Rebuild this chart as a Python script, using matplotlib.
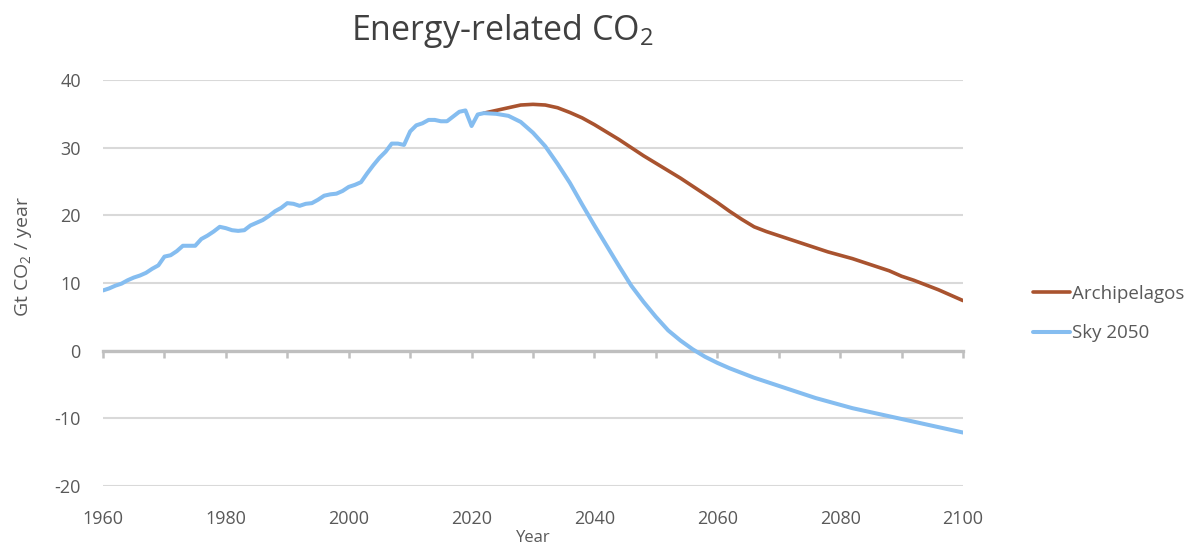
import matplotlib
matplotlib.use('Agg')
import matplotlib.pyplot as plt

# Historical energy-related CO2 (Gt/yr), shared by both scenarios
hist_years = list(range(1960, 2023))
hist_vals = [8.9, 9.2, 9.6, 9.9, 10.4, 10.8, 11.1, 11.5, 12.1, 12.6,
             13.9, 14.1, 14.7, 15.5, 15.5, 15.5, 16.5, 17.0, 17.6, 18.3,
             18.1, 17.8, 17.7, 17.8, 18.5, 18.9, 19.3, 19.9, 20.6, 21.1,
             21.8, 21.7, 21.4, 21.7, 21.8, 22.3, 22.9, 23.1, 23.2, 23.6,
             24.2, 24.5, 24.9, 26.2, 27.4, 28.5, 29.4, 30.6, 30.6, 30.4,
             32.4, 33.3, 33.6, 34.1, 34.1, 33.9, 33.9, 34.6, 35.3, 35.5,
             33.2, 34.9, 35.1]

# Scenario projections
proj_years = list(range(2022, 2101, 2))
arch_vals = [35.1, 35.5, 35.9, 36.3, 36.4, 36.3, 35.9, 35.2, 34.4, 33.4,
             32.3, 31.2, 30.0, 28.8, 27.7, 26.6, 25.5, 24.3, 23.1, 21.9,
             20.6, 19.4, 18.3, 17.6, 17.0, 16.4, 15.8, 15.2, 14.6, 14.1,
             13.6, 13.0, 12.4, 11.8, 11.0, 10.4, 9.7, 9.0, 8.2, 7.4]
sky_vals = [35.1, 35.0, 34.7, 33.8, 32.2, 30.2, 27.6, 24.8, 21.6, 18.5,
            15.5, 12.5, 9.6, 7.2, 5.0, 3.0, 1.5, 0.2, -0.9, -1.8,
            -2.6, -3.3, -4.0, -4.6, -5.2, -5.8, -6.4, -7.0, -7.5, -8.0,
            -8.5, -8.9, -9.3, -9.7, -10.1, -10.5, -10.9, -11.3, -11.7, -12.1]

plt.rcParams['font.family'] = ['Open Sans', 'DejaVu Sans']
plt.rcParams['axes.unicode_minus'] = False
text_col = '#595959'

fig = plt.figure(figsize=(12.01, 5.52), dpi=100)
ax = fig.add_axes([0.0858, 0.1196, 0.7160, 0.7355])

ax.plot(hist_years + proj_years[1:], hist_vals + sky_vals[1:], color='#85bdf0',
        lw=2.9, label='Sky 2050', zorder=3, solid_capstyle='round')
ax.plot(proj_years, arch_vals, color='#a9532f', lw=2.6, label='Archipelagos',
        zorder=2, solid_capstyle='round')

ax.set_xlim(1960, 2100)
ax.set_ylim(-20, 40)
ax.set_yticks(range(-20, 41, 10))
ax.set_xticks(range(1960, 2101, 10))
ax.grid(axis='y', color='#d9d9d9', lw=1.5)
ax.set_axisbelow(True)

for s in ['left', 'right', 'top']:
    ax.spines[s].set_visible(False)
ax.spines['bottom'].set_position(('data', 0))
ax.spines['bottom'].set_color('#bfbfbf')
ax.spines['bottom'].set_linewidth(2.4)
ax.tick_params(axis='x', direction='out', length=5, width=1.8,
               color='#bfbfbf', labelbottom=False)
ax.tick_params(axis='y', length=0, pad=16, labelsize=13, labelcolor=text_col)

sec = ax.secondary_xaxis('bottom')
sec.set_xticks(range(1960, 2101, 20))
sec.spines['bottom'].set_visible(False)
sec.tick_params(length=0, pad=17, labelsize=13, labelcolor=text_col)
sec.set_xlabel('Year', fontsize=12, color=text_col, labelpad=2)

ax.set_ylabel('Gt CO$_\\mathregular{2}$ / year', fontsize=14, color=text_col)
ax.yaxis.set_label_coords(-0.080, 0.565)

fig.text(0.418, 0.943, 'Energy-related CO$_\\mathregular{2}$', fontsize=24.5,
         color='#404040', ha='center', va='center')

handles, labels = ax.get_legend_handles_labels()
ax.legend(handles[::-1], labels[::-1], loc='upper left',
          bbox_to_anchor=(0.860, 0.484), bbox_transform=fig.transFigure,
          frameon=False, fontsize=13.5, handlelength=2.0, handletextpad=0.1,
          borderpad=0, borderaxespad=0, labelspacing=1.15, labelcolor=text_col)

fig.savefig('out.png', dpi=100)
